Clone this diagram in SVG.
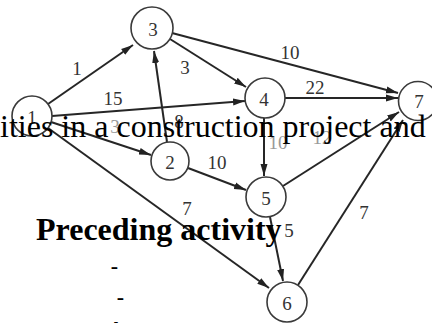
<svg xmlns="http://www.w3.org/2000/svg" width="432" height="323" viewBox="0 0 432 323">
<style>
.node circle{fill:#fff;stroke:#3a3a3a;stroke-width:1.6}
.node text,.lbl{font-family:"Liberation Serif",serif;font-size:19px;fill:#333;text-anchor:middle;dominant-baseline:central}
.lbl.faint{fill:#999}
.edges line{stroke:#262626;stroke-width:2;marker-end:url(#ah)}
.overlay{font-family:"Liberation Serif",serif;fill:#000}
</style>
<defs>
<marker id="ah" markerUnits="userSpaceOnUse" markerWidth="13" markerHeight="9" refX="12" refY="4.5" orient="auto">
<path d="M0,1 L12,4.5 L0,8 Z" fill="#222"/>
</marker>
</defs>
<rect width="432" height="323" fill="#fff"/>
<g class="edges" id="connectors">
<line x1="48" y1="104" x2="133" y2="45"/>
<line x1="52" y1="116" x2="245" y2="101"/>
<line x1="51" y1="122" x2="151" y2="155"/>
<line x1="48" y1="128" x2="269" y2="288"/>
<line x1="167" y1="142" x2="154" y2="51"/>
<line x1="170" y1="39" x2="246" y2="87"/>
<line x1="172" y1="33" x2="398" y2="93"/>
<line x1="285" y1="98" x2="398" y2="98"/>
<line x1="188" y1="168" x2="246" y2="190"/>
<line x1="264" y1="118" x2="264" y2="176"/>
<line x1="283" y1="186" x2="399" y2="112"/>
<line x1="270" y1="217" x2="283" y2="281"/>
<line x1="298" y1="285" x2="403" y2="120"/>
</g>
<g id="edge-labels">
<text class="lbl" x="77" y="68">1</text>
<text class="lbl" x="113" y="98">15</text>
<text class="lbl faint" x="115" y="126">3</text>
<text class="lbl" x="187" y="208">7</text>
<text class="lbl" x="179" y="121">8</text>
<text class="lbl" x="185" y="67">3</text>
<text class="lbl" x="290" y="52">10</text>
<text class="lbl" x="315" y="87">22</text>
<text class="lbl" x="217" y="162">10</text>
<text class="lbl faint" x="278" y="142">10</text>
<text class="lbl faint" x="322" y="137">12</text>
<text class="lbl" x="289" y="230">5</text>
<text class="lbl" x="364" y="212">7</text>
</g>
<g class="node" id="node1"><circle cx="32" cy="116" r="20"/><text x="32" y="117">1</text></g>
<g class="node" id="node2"><circle cx="170" cy="161" r="19"/><text x="170" y="162">2</text></g>
<g class="node" id="node3"><circle cx="152" cy="28" r="21"/><text x="153" y="29">3</text></g>
<g class="node" id="node4"><circle cx="265" cy="98" r="20"/><text x="264" y="99">4</text></g>
<g class="node" id="node5"><circle cx="266" cy="197" r="20"/><text x="266" y="198">5</text></g>
<g class="node" id="node6"><circle cx="287" cy="302" r="20"/><text x="287" y="303">6</text></g>
<g class="node" id="node7"><circle cx="418" cy="101" r="19.5"/><text x="419" y="101">7</text></g>
<g id="overlay-text">
<text class="overlay" x="0" y="137" font-size="32">ities in a construction project and</text>
<text class="overlay" x="36" y="240" font-size="32" font-weight="bold">Preceding activity</text>
<text class="overlay" x="114.5" y="273" font-size="22" font-weight="bold" text-anchor="middle">-</text>
<text class="overlay" x="120.5" y="304" font-size="22" font-weight="bold" text-anchor="middle">-</text>
<text class="overlay" x="116" y="336" font-size="22" font-weight="bold" text-anchor="middle">A</text>
</g>
</svg>
